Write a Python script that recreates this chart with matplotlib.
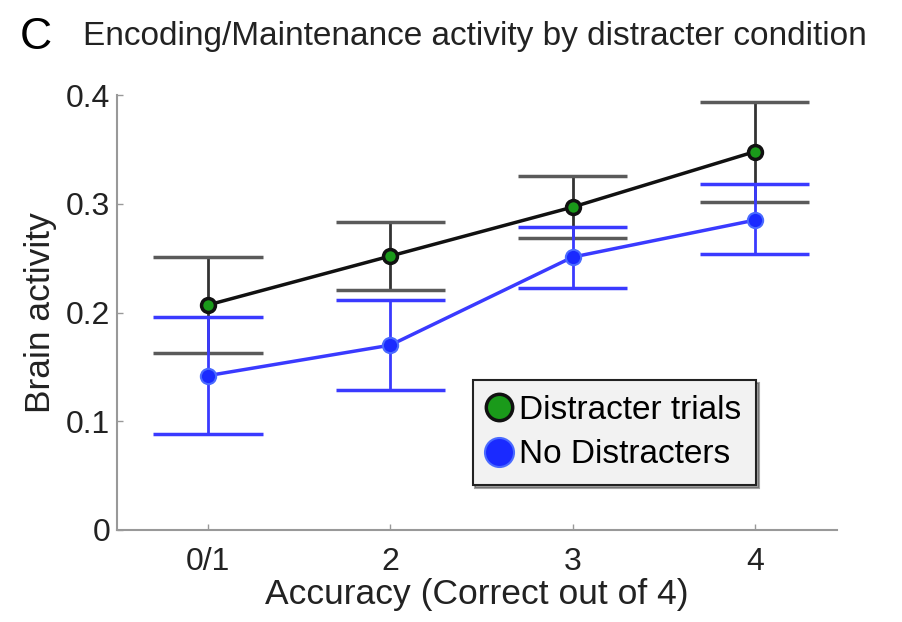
import matplotlib.pyplot as plt
import numpy as np

plt.rcParams['font.family'] = ['Liberation Sans', 'DejaVu Sans']

# datos
categorias = ["0/1", "2", "3", "4"]
distracter = [0.207, 0.252, 0.297, 0.348]
distracter_sup = [0.251, 0.283, 0.326, 0.394]
distracter_inf = [0.163, 0.221, 0.269, 0.302]
sin_distracter = [0.142, 0.170, 0.251, 0.285]
sin_distracter_sup = [0.196, 0.212, 0.279, 0.318]
sin_distracter_inf = [0.088, 0.129, 0.223, 0.254]

x = np.arange(1, len(categorias) + 1)
ancho_cap = 0.3

fig = plt.figure(figsize=(9.03, 6.22), dpi=100)
ax = fig.add_axes([0.1296, 0.148, 0.797, 0.699])

azul = "#3a3aff"
gris = "#5a5a5a"

# barras de error
ax.vlines(x, distracter_inf, distracter_sup, color="#333333", lw=2, zorder=2)
ax.hlines(distracter_sup, x - ancho_cap, x + ancho_cap, color=gris, lw=2.5, zorder=2)
ax.hlines(distracter_inf, x - ancho_cap, x + ancho_cap, color=gris, lw=2.5, zorder=2)
ax.vlines(x, sin_distracter_inf, sin_distracter_sup, color=azul, lw=2, zorder=3)
ax.hlines(sin_distracter_sup, x - ancho_cap, x + ancho_cap, color=azul, lw=2.5, zorder=3)
ax.hlines(sin_distracter_inf, x - ancho_cap, x + ancho_cap, color=azul, lw=2.5, zorder=3)

ax.plot(x, distracter, "-o", color="#111111", lw=2.5, ms=10,
        mfc="#1a9a1a", mec="#111111", mew=2.5, label="Distracter trials", zorder=4)
ax.plot(x, sin_distracter, "-o", color=azul, lw=2.5, ms=11,
        mfc="#1a2aff", mec="#4a6aff", mew=1.5, label="No Distracters", zorder=4)

ax.set_xlim(0.5, 4.45)
ax.set_ylim(0, 0.4)
ax.set_xticks(x)
ax.set_xticklabels(categorias)
ax.set_yticks([0, 0.1, 0.2, 0.3, 0.4])
ax.set_yticklabels(["0", "0.1", "0.2", "0.3", "0.4"])
ax.tick_params(direction="in", length=4, width=1, color="#999999",
               labelsize=23, labelcolor="#222222")
ax.tick_params(axis="x", pad=12)
ax.tick_params(axis="y", pad=5)
for lado in ["top", "right"]:
    ax.spines[lado].set_visible(False)
for lado in ["left", "bottom"]:
    ax.spines[lado].set_color("#999999")
    ax.spines[lado].set_linewidth(1.5)

ax.set_xlabel("Accuracy (Correct out of 4)", fontsize=25.5, labelpad=1,
              color="#222222")
ax.set_ylabel("Brain activity", fontsize=25.5, labelpad=6, color="#222222")

fig.text(0.022, 0.94, "C", fontsize=32, va="center", ha="left")
fig.text(0.092, 0.942, "Encoding/Maintenance activity by distracter condition",
         fontsize=24, va="center", ha="left", color="#222222")

leg = ax.legend(loc="upper left", bbox_to_anchor=(0.494, 0.345), fontsize=24,
                handlelength=0.7, handletextpad=0.25, borderpad=0.45,
                labelspacing=0.4, borderaxespad=0, markerscale=1.9,
                fancybox=False, shadow=True,
                framealpha=1, facecolor="#f2f2f2", edgecolor="#222222")
for h in leg.legend_handles:
    h.set_linestyle("none")
leg.get_frame().set_linewidth(1.5)

plt.savefig("out.png", dpi=100)
